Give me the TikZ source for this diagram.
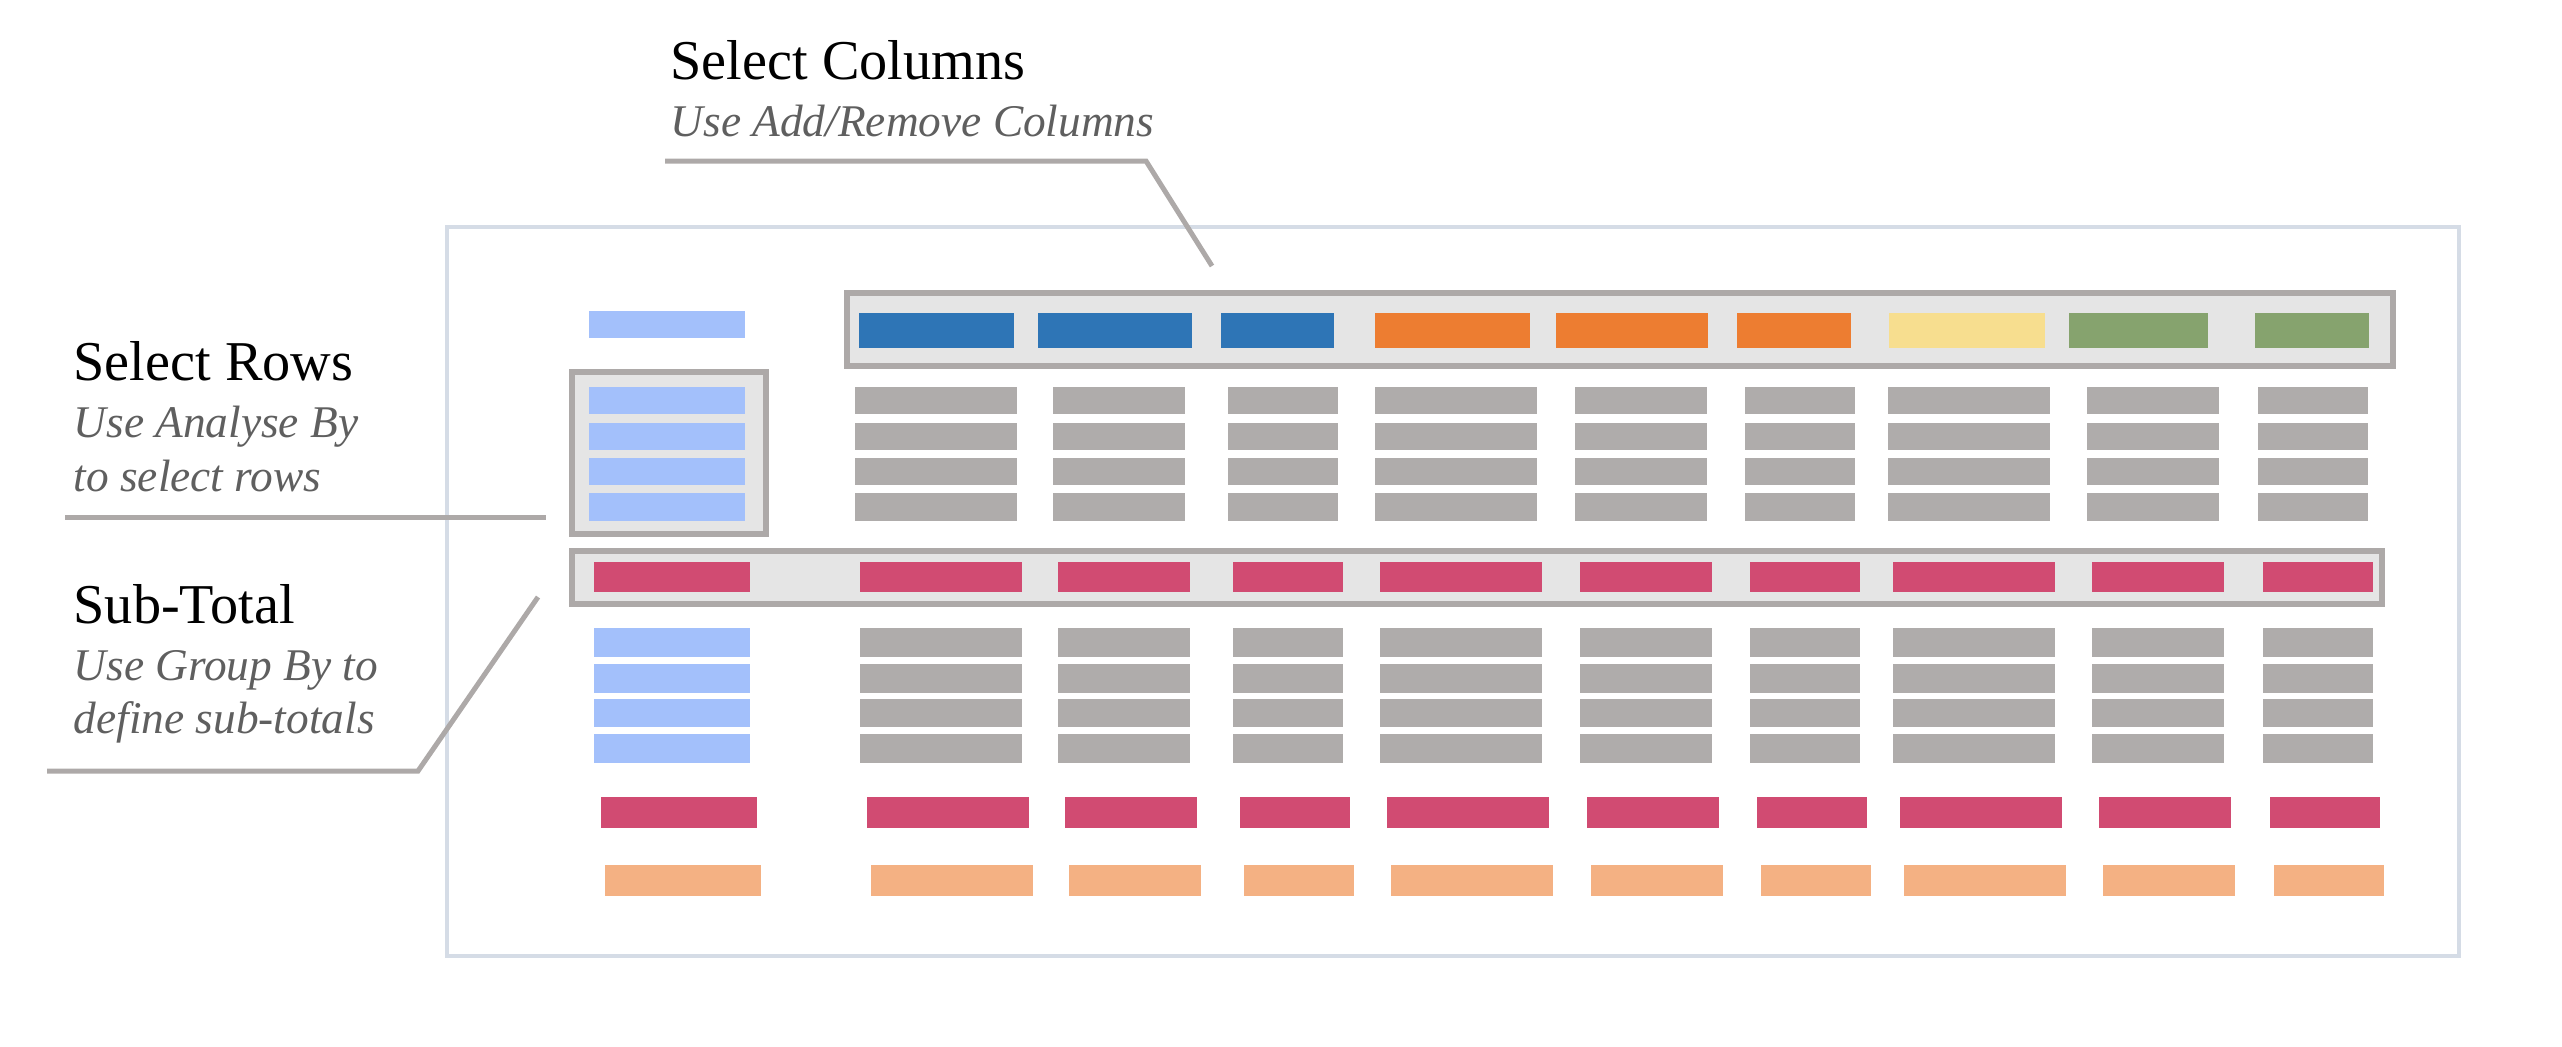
\documentclass[tikz,border=0pt]{standalone}
\usepackage{fontspec}
\setmainfont{Liberation Serif}

\definecolor{framegray}{HTML}{D5DCE6}
\definecolor{linegray}{HTML}{ADA9A8}
\definecolor{boxfill}{HTML}{E5E5E5}
\definecolor{cellgray}{HTML}{AFACAB}
\definecolor{rowblue}{HTML}{A3C0FB}
\definecolor{headblue}{HTML}{2E75B6}
\definecolor{headorange}{HTML}{ED7D31}
\definecolor{headyellow}{HTML}{F7DE8F}
\definecolor{headgreen}{HTML}{86A36E}
\definecolor{subred}{HTML}{D14B72}
\definecolor{totorange}{HTML}{F4B183}
\definecolor{notegray}{HTML}{5F5F5F}

\begin{document}
\begin{tikzpicture}[x=0.1mm,y=-0.1mm,
    title/.style={anchor=base west,inner sep=0pt,font=\fontsize{16}{19}\selectfont},
    note/.style={anchor=base west,inner sep=0pt,text=notegray,font=\fontsize{12.9}{15.5}\selectfont\itshape},
    leader/.style={draw=linegray,line width=0.5mm},
    highlight/.style={draw=linegray,fill=boxfill,line width=0.6mm,inner sep=0pt}]
    \useasboundingbox (0,0) rectangle (2562,1046);

    % Outer frame
    \node[draw=framegray,line width=0.4mm,inner sep=0pt,
          minimum width=201.2mm,minimum height=72.9mm] (frame) at (1453,591.5) {};

    % Highlight boxes
    \node[highlight,minimum width=154.6mm,minimum height=7.3mm] (colbox) at (1620,329.5) {};
    \node[highlight,minimum width=19.4mm,minimum height=16.2mm] (rowbox) at (669,453) {};
    \node[highlight,minimum width=181mm,minimum height=5.3mm] (subbox) at (1477,577.5) {};

    % Header row
    \fill[rowblue] (589,311) rectangle ++(156,27);
    \foreach \x/\w/\c in {859/155/headblue, 1038/154/headblue, 1221/113/headblue,
                          1375/155/headorange, 1556/152/headorange, 1737/114/headorange,
                          1889/156/headyellow, 2069/139/headgreen, 2255/114/headgreen}
        \fill[\c] (\x,313) rectangle ++(\w,35);

    % Body rows: y / shift / height / first cell / other cells
    \foreach \y/\dx/\h/\ca/\cb in {387/0/27/rowblue/cellgray, 423/0/27/rowblue/cellgray,
                                   458/0/27/rowblue/cellgray, 493/0/28/rowblue/cellgray,
                                   562/5/30/subred/subred,
                                   628/5/29/rowblue/cellgray, 664/5/29/rowblue/cellgray,
                                   699/5/28/rowblue/cellgray, 734/5/29/rowblue/cellgray,
                                   797/12/31/subred/subred, 865/16/31/totorange/totorange}
    {
        \fill[\ca] (589+\dx,\y) rectangle ++(156,\h);
        \foreach \x/\w in {855/162, 1053/132, 1228/110, 1375/162, 1575/132,
                           1745/110, 1888/162, 2087/132, 2258/110}
            \fill[\cb] (\x+\dx,\y) rectangle ++(\w,\h);
    }

    % Labels
    \node[title] (colhead) at (670,79) {Select Columns};
    \node[note] (colnote) at (670,136) {Use Add/Remove Columns};
    \node[title] (rowhead) at (73,380) {Select Rows};
    \node[note] (rownote1) at (73,437) {Use Analyse By};
    \node[note] (rownote2) at (73,491) {to select rows};
    \node[title] (subhead) at (73,623) {Sub-Total};
    \node[note] (subnote1) at (73,680) {Use Group By to};
    \node[note] (subnote2) at (73,733) {define sub-totals};

    % Leader lines
    \coordinate (cl1) at (665,161);
    \coordinate (cl2) at (1146,161);
    \coordinate (cl3) at (1212,266);
    \coordinate (rl1) at (65,517);
    \coordinate (rl2) at (546,517);
    \coordinate (sl1) at (47,771);
    \coordinate (sl2) at (418,771);
    \coordinate (sl3) at (538,597);
    \draw[leader] (cl1) -- (cl2) -- (cl3);
    \draw[leader] (rl1) -- (rl2);
    \draw[leader] (sl1) -- (sl2) -- (sl3);

\end{tikzpicture}
\end{document}
